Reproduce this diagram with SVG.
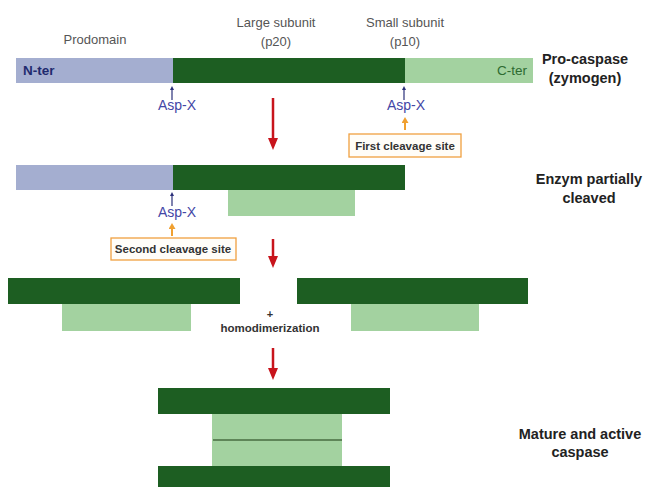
<svg xmlns="http://www.w3.org/2000/svg" width="654" height="487" viewBox="0 0 654 487">
<defs>
<style>
.dk{fill:#1d5e22}
.lt{fill:#a3d2a0}
.bl{fill:#a4aed0}
.hdr{font-family:"Liberation Sans",Arial,sans-serif;font-size:13px;fill:#555;text-anchor:middle}
.asp{font-family:"Liberation Sans",Arial,sans-serif;font-size:14px;fill:#4346a6;text-anchor:middle}
.side{font-family:"Liberation Sans",Arial,sans-serif;font-size:14.5px;font-weight:bold;fill:#222;text-anchor:middle}
.box{fill:#fffdf8;stroke:#f0a040;stroke-width:1.3}
.boxt{font-family:"Liberation Sans",Arial,sans-serif;font-size:11.5px;font-weight:bold;fill:#333;text-anchor:middle}
.red{stroke:#c8141c;stroke-width:2.5;fill:none}
.nav{stroke:#2a2f7a;stroke-width:1.2}
.org{stroke:#f0a030;stroke-width:2}
</style>
<marker id="rh" markerWidth="12" markerHeight="10" refX="0" refY="5" orient="auto" markerUnits="userSpaceOnUse" viewBox="0 0 12 10"><path d="M0,0 L12,5 L0,10 Z" fill="#c8141c"/></marker>
<marker id="nh" markerWidth="4" markerHeight="4" refX="0" refY="2" orient="auto" markerUnits="userSpaceOnUse" viewBox="0 0 4 4"><path d="M0,0 L4,2 L0,4 Z" fill="#2a2f7a"/></marker>
<marker id="oh" markerWidth="6" markerHeight="7" refX="0" refY="3.5" orient="auto" markerUnits="userSpaceOnUse" viewBox="0 0 6 7"><path d="M0,0 L6,3.5 L0,7 Z" fill="#f0a030"/></marker>
</defs>

<g id="headers">
<text class="hdr" x="95" y="44">Prodomain</text>
<text class="hdr" x="276" y="27">Large subunit</text>
<text class="hdr" x="276" y="46">(p20)</text>
<text class="hdr" x="405" y="27">Small subunit</text>
<text class="hdr" x="405" y="46">(p10)</text>
</g>

<g id="procaspase">
<rect class="bl" x="16" y="58" width="157" height="25"/>
<rect class="dk" x="173" y="58" width="232" height="25"/>
<rect class="lt" x="405" y="58" width="128" height="25"/>
<text x="23" y="75" font-family="Liberation Sans,Arial,sans-serif" font-size="13.5" font-weight="bold" fill="#1f2a6e">N-ter</text>
<text x="527" y="75" font-family="Liberation Sans,Arial,sans-serif" font-size="13.5" fill="#2d6b30" text-anchor="end">C-ter</text>
<text class="side" x="585" y="64">Pro-caspase</text>
<text class="side" x="585" y="83">(zymogen)</text>
</g>

<g id="asp1">
<text class="asp" x="177" y="110">Asp-X</text>
</g>
<g id="asp2">
<text class="asp" x="406" y="110">Asp-X</text>
</g>
<g id="first-site">
<rect class="box" x="349" y="134" width="112" height="23"/>
<text class="boxt" x="405" y="150">First cleavage site</text>
</g>

<g id="partial">
<rect class="bl" x="16" y="165" width="157" height="25"/>
<rect class="dk" x="173" y="165" width="232" height="25"/>
<rect class="lt" x="228" y="190" width="127" height="26"/>
<text class="side" x="589" y="184">Enzym partially</text>
<text class="side" x="589" y="203">cleaved</text>
</g>

<g id="asp3">
<text class="asp" x="177" y="217">Asp-X</text>
</g>
<g id="second-site">
<rect class="box" x="111" y="238" width="125" height="22"/>
<text class="boxt" x="173" y="253">Second cleavage site</text>
</g>

<g id="split">
<rect class="dk" x="8" y="278" width="232" height="26"/>
<rect class="lt" x="62" y="304" width="129" height="27"/>
<rect class="dk" x="297" y="278" width="231" height="26"/>
<rect class="lt" x="351" y="304" width="128" height="27"/>
<text x="270" y="318" font-family="Liberation Sans,Arial,sans-serif" font-size="11" font-weight="bold" fill="#333" text-anchor="middle">+</text>
<text x="270" y="332" font-family="Liberation Sans,Arial,sans-serif" font-size="11.5" font-weight="bold" fill="#333" text-anchor="middle">homodimerization</text>
</g>

<g id="mature">
<rect class="dk" x="158" y="388" width="232" height="26"/>
<rect class="lt" x="212" y="414" width="130" height="52"/>
<line x1="213" y1="440" x2="342" y2="440" stroke="#5e8558" stroke-width="2"/>
<rect class="dk" x="158" y="466" width="232" height="21"/>
<text class="side" x="580" y="439">Mature and active</text>
<text class="side" x="580" y="457">caspase</text>
</g>

<g id="connectors">
<line class="nav" x1="172" y1="100" x2="172" y2="90" marker-end="url(#nh)"/>
<line class="nav" x1="404" y1="100" x2="404" y2="90" marker-end="url(#nh)"/>
<line class="org" x1="405" y1="130" x2="405" y2="123" marker-end="url(#oh)"/>
<line class="nav" x1="172" y1="206" x2="172" y2="196" marker-end="url(#nh)"/>
<line class="org" x1="172" y1="236" x2="172" y2="229" marker-end="url(#oh)"/>
<line class="red" x1="273" y1="98" x2="273" y2="138" marker-end="url(#rh)"/>
<line class="red" x1="273" y1="239" x2="273" y2="256" marker-end="url(#rh)"/>
<line class="red" x1="273" y1="348" x2="273" y2="368" marker-end="url(#rh)"/>
</g>
</svg>
